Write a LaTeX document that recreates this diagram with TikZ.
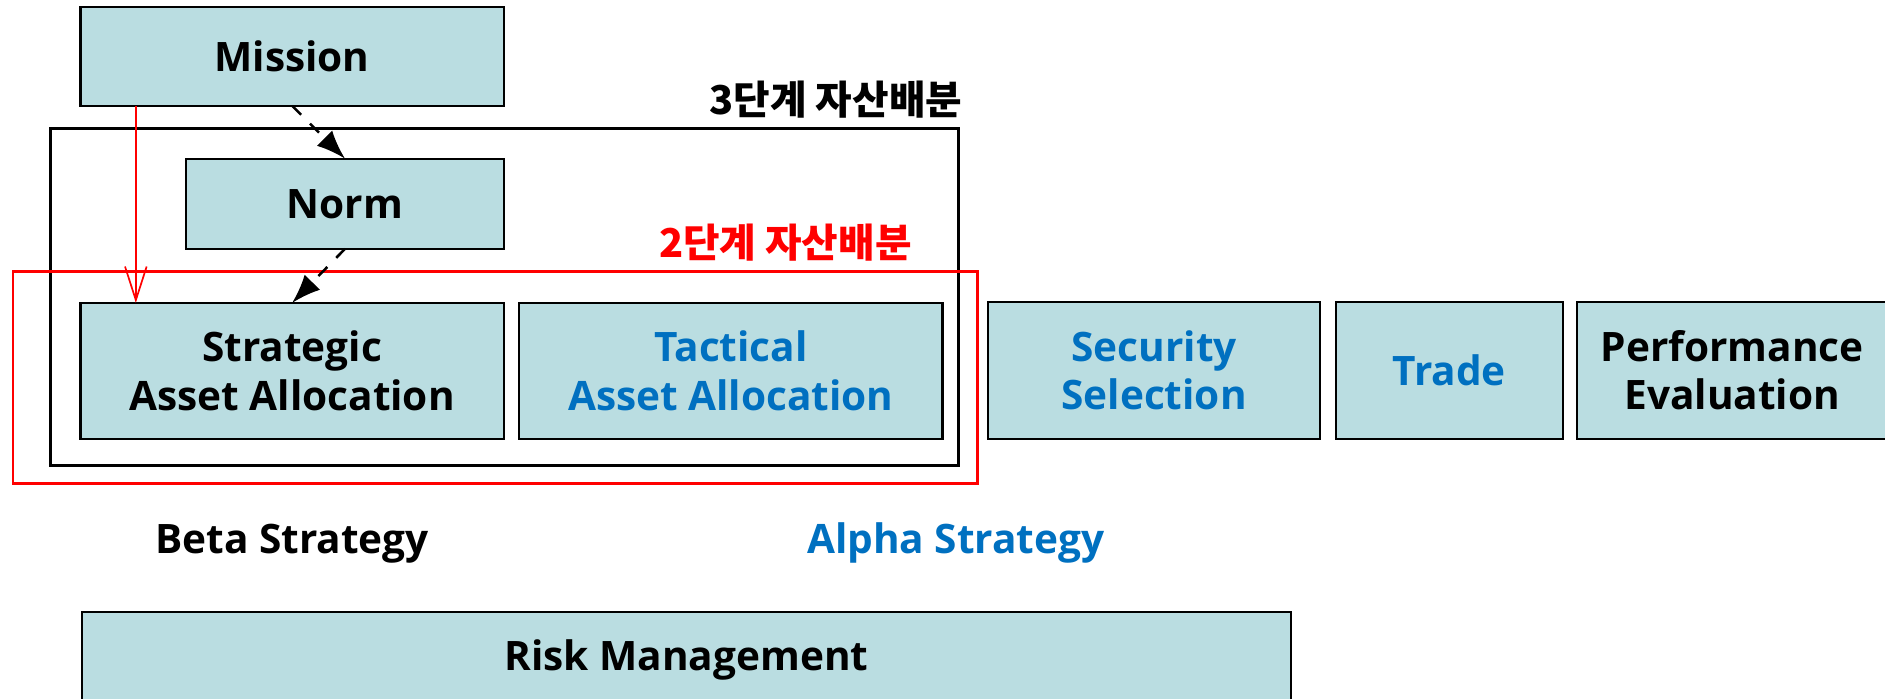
\documentclass[tikz,border=0pt]{standalone}
\usepackage{fontspec}
\setmainfont{Open Sans}
\newfontfamily\kr{Noto Sans CJK KR}
\usetikzlibrary{arrows.meta}
\definecolor{boxfill}{HTML}{BADDE1}
\definecolor{txtblue}{HTML}{0070C0}
\begin{document}
\begin{tikzpicture}[x=0.1mm,y=-0.1mm,
  box/.style={draw=black,line width=0.5pt,fill=boxfill,inner sep=0pt,outer sep=0pt,align=center,
    font=\fontsize{9.6pt}{11.4pt}\selectfont\bfseries},
  lbl/.style={inner sep=0pt,font=\fontsize{9.6pt}{11.4pt}\selectfont\bfseries},
  krlbl/.style={inner sep=0pt,font=\kr\fontsize{9.4pt}{11pt}\selectfont\bfseries},
  dasharrow/.style={dashed,line width=0.6pt,-{Latex[length=2.4mm,width=1.8mm]}},
  redarrow/.style={red,line width=0.4pt,-{Straight Barb[length=2.8mm,width=1.8mm]}}]
 \useasboundingbox (0,0) rectangle (1568,581);
 \clip (0,0) rectangle (1568,581);
 \draw[line width=0.7pt](42,107) rectangle (797,387);
 \draw[red,line width=0.6pt](11,226) rectangle (813,402);
 \node[box,minimum width=35.2mm,minimum height=8.2mm] (mission) at (243,47) {Mission};
 \node[box,minimum width=26.4mm,minimum height=7.5mm] (norm) at (287,169.5) {Norm};
 \node[box,minimum width=35.2mm,minimum height=11.3mm] (saa) at (243,308.5) {Strategic\\Asset Allocation};
 \node[box,minimum width=35.2mm,minimum height=11.3mm,text=txtblue] (taa) at (608,308.5) {Tactical\\Asset Allocation};
 \node[box,minimum width=27.6mm,minimum height=11.4mm,text=txtblue] (sec) at (960,308) {Security\\Selection};
 \node[box,minimum width=18.9mm,minimum height=11.4mm,text=txtblue] (trade) at (1205.5,308) {Trade};
 \node[box,minimum width=25.8mm,minimum height=11.4mm] (perf) at (1441,308) {Performance\\Evaluation};
 \node[box,minimum width=100.6mm,minimum height=8mm] (risk) at (571,549) {Risk Management};
 \node[krlbl,anchor=east] (lab3) at (801,83) {3단계 자산배분};
 \node[krlbl,anchor=east,text=red] (lab2) at (759,202) {2단계 자산배분};
 \node[lbl] (beta) at (243,452) {Beta Strategy};
 \node[lbl,text=txtblue] (alpha) at (795,452) {Alpha Strategy};
 \draw[dasharrow](mission.south)--(norm.north);
 \draw[dasharrow](norm.south)--(saa.north);
 \draw[redarrow]([xshift=4.6mm]mission.south west)--([xshift=4.6mm]saa.north west);
\end{tikzpicture}
\end{document}
